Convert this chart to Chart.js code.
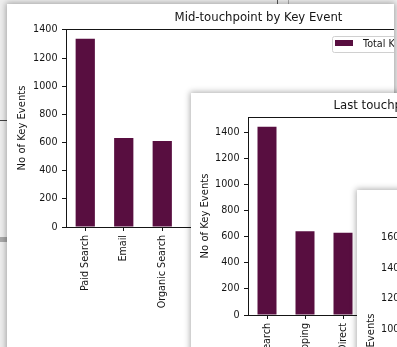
<!DOCTYPE html>
<html>
<head>
<meta charset="utf-8">
<script src="https://cdn.jsdelivr.net/npm/chart.js@4.4.1/dist/chart.umd.min.js"></script>
<style>
  html, body { margin: 0; padding: 0; width: 397px; height: 347px; overflow: hidden; background: #eeeeee; }
  .win { position: absolute; background: #ffffff; overflow: hidden; box-shadow: 0 0 6px 1px rgba(0,0,0,0.32); }
  .win canvas { position: absolute; left: 0; top: 0; }
  .mark { position: absolute; }
</style>
</head>
<body>
<!-- window edges peeking out from behind -->
<div class="mark" style="left:0;top:120px;width:9px;height:1px;background:#444"></div>
<div class="mark" style="left:0;top:237px;width:9px;height:5px;background:#a9a9a9"></div>
<div class="mark" style="left:277px;top:0;width:1px;height:4px;background:#555"></div>
<div class="mark" style="left:288px;top:0;width:1px;height:4px;background:#aaa"></div>

<div class="win" style="left:7px;top:4px;width:387px;height:360px;z-index:1">
  <canvas id="mid" width="480" height="360"></canvas>
</div>
<div class="win" style="left:191px;top:93px;width:420px;height:360px;z-index:2">
  <canvas id="last" width="420" height="360"></canvas>
</div>
<div class="win" style="left:357px;top:190px;width:300px;height:400px;z-index:3">
  <canvas id="third" width="300" height="400"></canvas>
</div>

<script>
// Mid-touchpoint by Key Event
const midChannels = ['Paid Search', 'Email', 'Organic Search'];
const midEvents = [1337, 632, 611];
const midYTicks = [0, 200, 400, 600, 800, 1000, 1200, 1400];
const midYMax = 1407;
const midSlots = 10;

// Last touchpoint by Key Event
const lastChannels = ['Paid Search', 'Organic Shopping', 'Direct'];
const lastEvents = [1440, 640, 630];
const lastYTicks = [0, 200, 400, 600, 800, 1000, 1200, 1400];
const lastYMax = 1515;
const lastSlots = 9;

// third panel (only its value axis shows)
const thirdYTicks = [0, 200, 400, 600, 800, 1000, 1200, 1400, 1600];
const thirdYMax = 1654;

const seriesName = 'Total Key Events';
const yTitle = 'No of Key Events';
const barColor = '#580e40';
const ink = '#151515';
const family = '"DejaVu Sans", sans-serif';

// axes frame drawn on all four sides, over the bars
const framePlugin = {
  id: 'frame',
  afterDatasetsDraw(chart) {
    const { ctx, chartArea: a } = chart;
    ctx.save();
    ctx.strokeStyle = ink;
    ctx.lineWidth = 1;
    const l = Math.floor(a.left) + 0.5, t = Math.floor(a.top) + 0.5;
    const r = Math.floor(a.right) + 0.5, b = Math.floor(a.bottom) + 0.5;
    ctx.strokeRect(l, t, r - l, b - t);
    ctx.restore();
  }
};

// boxed legend in the upper right of the axes
const keyPlugin = {
  id: 'keyBox',
  afterDraw(chart, args, opts) {
    if (!opts.show) return;
    const { ctx, chartArea: a } = chart;
    const ds = chart.data.datasets[0];
    ctx.save();
    ctx.font = '9.6px ' + family;
    const tw = ctx.measureText(ds.label).width;
    const x = a.right - 119, y = a.top + 7;
    const w = 3 + 18 + 10 + tw + 5, h = 16;
    ctx.fillStyle = 'rgba(255,255,255,0.9)';
    ctx.strokeStyle = '#d0d0d0';
    ctx.lineWidth = 1;
    ctx.beginPath();
    ctx.roundRect(x + 0.5, y + 0.5, w, h, 2);
    ctx.fill();
    ctx.stroke();
    ctx.fillStyle = ds.backgroundColor;
    ctx.fillRect(x + 3, y + 4, 18, 6);
    ctx.fillStyle = ink;
    ctx.textBaseline = 'alphabetic';
    ctx.fillText(ds.label, x + 31, y + 11);
    ctx.restore();
  }
};

function panel(id, o) {
  const labels = o.channels.concat(new Array(Math.max(0, o.slots - o.channels.length)).fill(''));
  const axisGrid = { display: true, drawOnChartArea: false, drawTicks: true, tickLength: 4, color: ink, lineWidth: 1 };
  return new Chart(document.getElementById(id), {
    type: 'bar',
    data: {
      labels: labels,
      datasets: [{
        label: seriesName,
        data: o.values,
        backgroundColor: barColor,
        borderWidth: 0,
        categoryPercentage: 1,
        barPercentage: 0.5
      }]
    },
    options: {
      responsive: false,
      animation: false,
      devicePixelRatio: 1,
      layout: { padding: { left: 0, top: o.padTop, right: o.padRight, bottom: 0 } },
      plugins: {
        legend: { display: false },
        tooltip: { enabled: false },
        title: o.title ? {
          display: true,
          text: o.title,
          fullSize: false,
          color: ink,
          font: { family: family, size: 11.7, weight: 'normal', lineHeight: '14px' },
          padding: { top: 7, bottom: 4 }
        } : { display: false },
        keyBox: { show: !!o.legend }
      },
      scales: {
        x: {
          grid: Object.assign({ offset: false }, axisGrid),
          border: { display: false },
          ticks: {
            autoSkip: false, minRotation: 90, maxRotation: 90, padding: 4,
            color: ink, font: { family: family, size: 9.6 }
          },
          afterFit: s => { s.height = o.xHeight; }
        },
        y: {
          min: 0,
          max: o.yMax,
          bounds: 'data',
          grid: axisGrid,
          border: { display: false },
          ticks: {
            padding: 4.5, color: ink, font: { family: family, size: 9.6 },
            callback: v => String(v)
          },
          afterBuildTicks: s => { s.ticks = o.yTicks.map(v => ({ value: v })); },
          afterFit: s => { s.width = o.yWidth; },
          title: {
            display: true,
            text: yTitle,
            color: ink,
            font: { family: family, size: 10, lineHeight: '12px' },
            padding: { top: o.yTitlePad, bottom: 0 }
          }
        }
      }
    },
    plugins: [framePlugin, keyPlugin]
  });
}

panel('mid', {
  channels: midChannels, values: midEvents, slots: midSlots,
  yTicks: midYTicks, yMax: midYMax,
  title: 'Mid-touchpoint by Key Event', legend: true,
  padTop: 0, padRight: 36, yWidth: 59, xHeight: 137, yTitlePad: 9.5
});

panel('last', {
  channels: lastChannels, values: lastEvents, slots: lastSlots,
  yTicks: lastYTicks, yMax: lastYMax,
  title: 'Last touchpoint by Key Event', legend: false,
  padTop: -1, padRight: 21, yWidth: 57, xHeight: 138, yTitlePad: 8.3
});

panel('third', {
  channels: [], values: [], slots: 0,
  yTicks: thirdYTicks, yMax: thirdYMax,
  title: null, legend: false,
  padTop: 39, padRight: 20, yWidth: 57, xHeight: 107, yTitlePad: 8.2
});
</script>
</body>
</html>
